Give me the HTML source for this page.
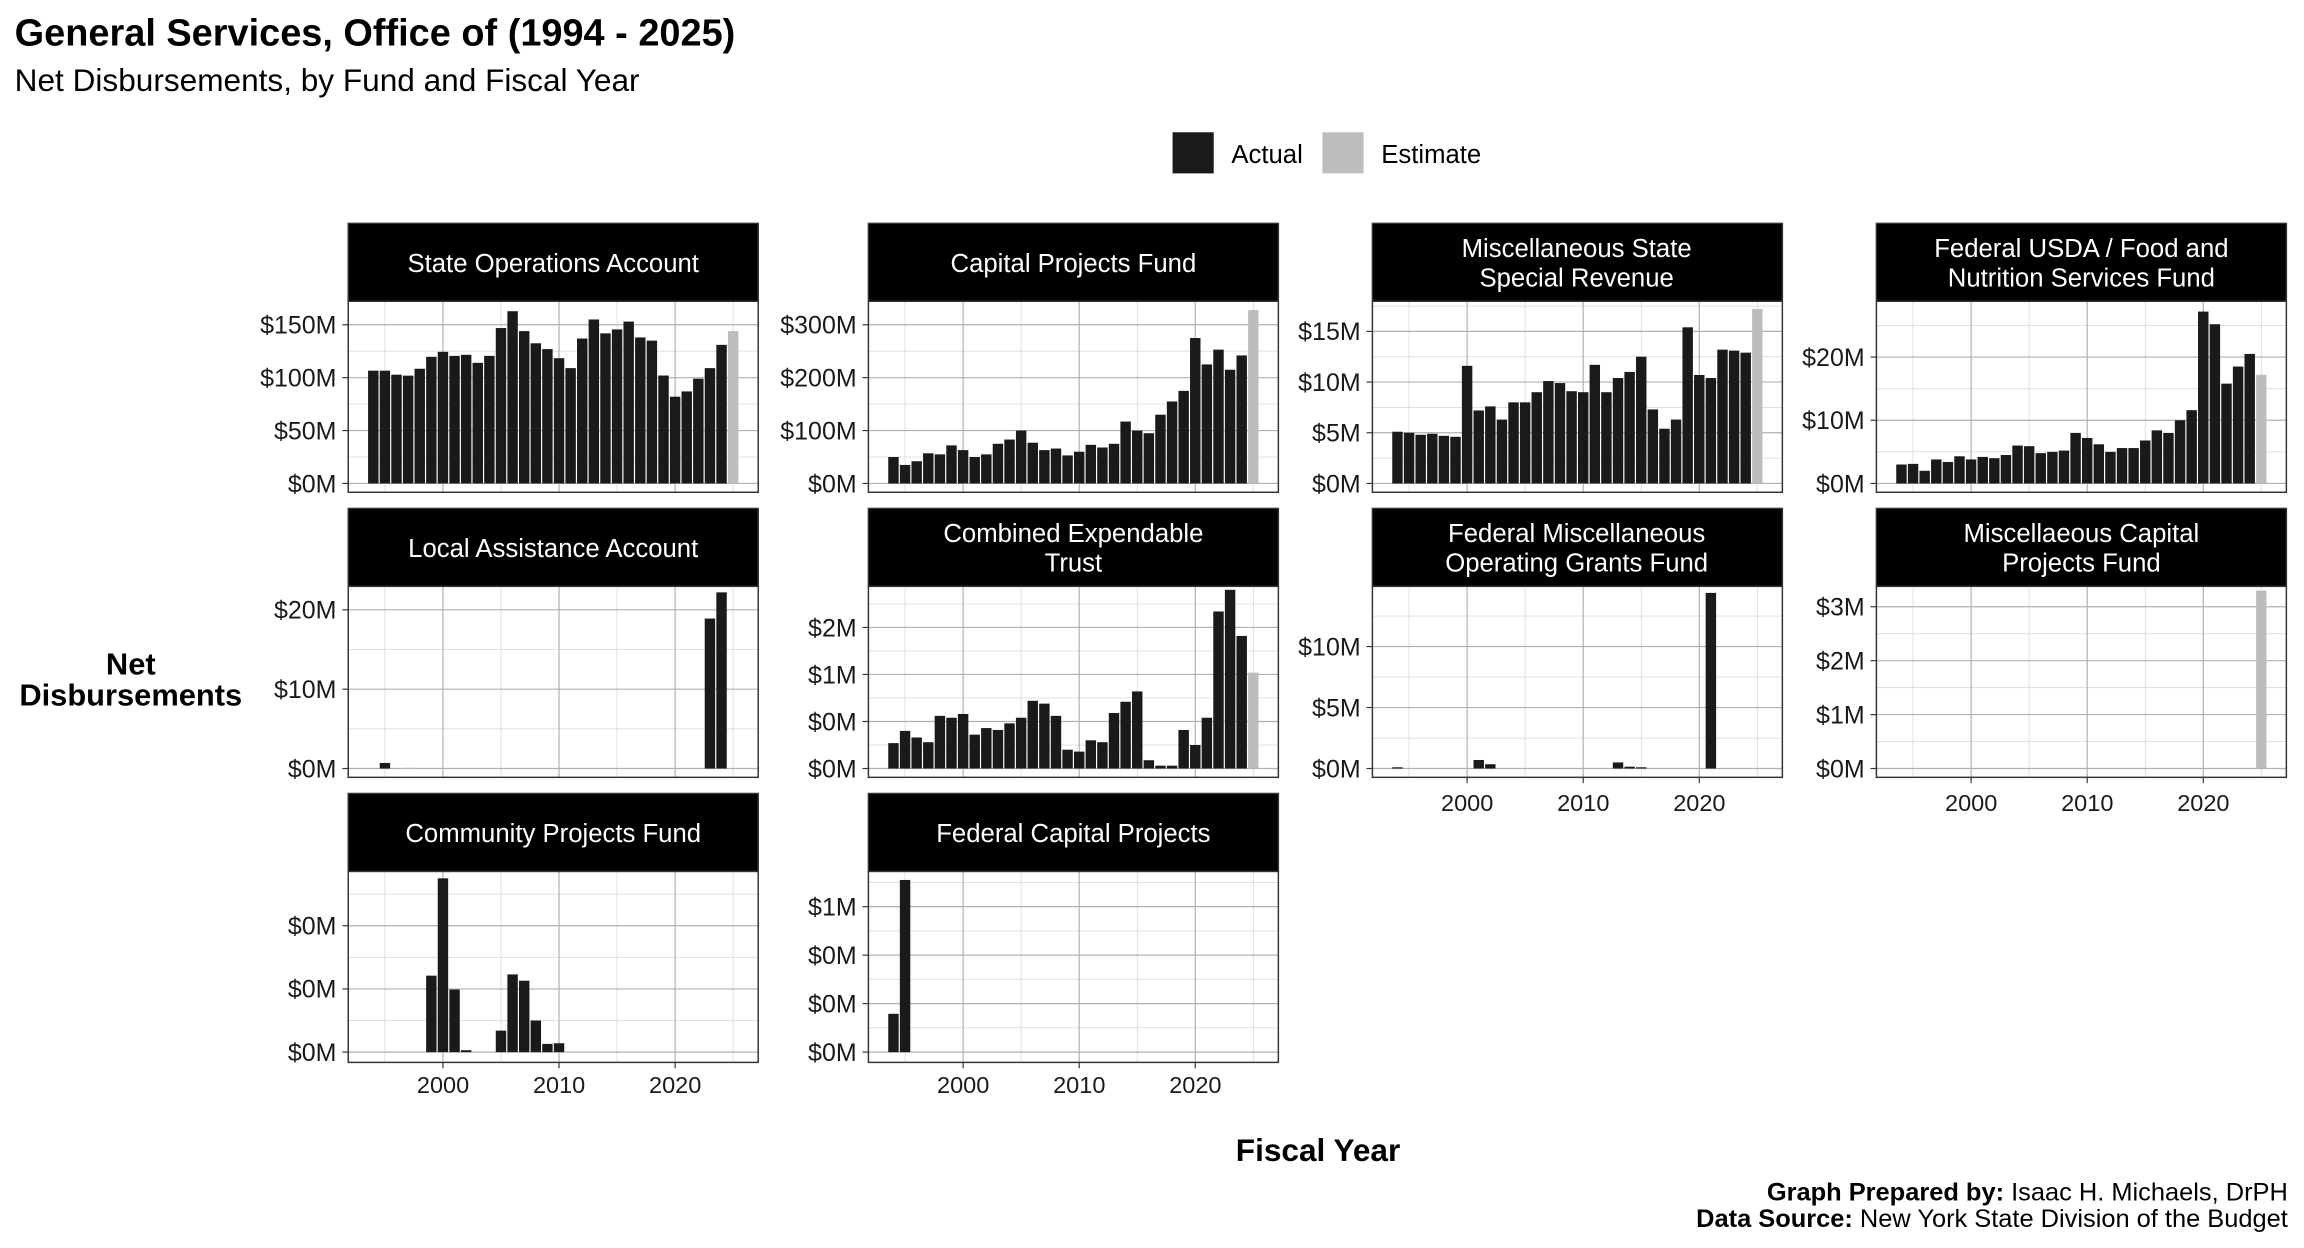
<!DOCTYPE html>
<html><head><meta charset="utf-8"><style>
html,body{margin:0;padding:0;background:#fff;}
svg{display:block;font-family:"Liberation Sans",Arial,sans-serif;}
.yl{font-size:17px;fill:#1a1a1a;text-anchor:end;}
.xl{font-size:16px;fill:#1a1a1a;text-anchor:middle;}
.st{font-size:17.5px;fill:#fff;text-anchor:middle;}
</style></head><body>
<svg id="s" width="2304" height="1248" viewBox="0 0 1568 849.3" xmlns="http://www.w3.org/2000/svg">
<rect width="1568" height="850" fill="#fff"/>
<g id="g"></g>
<text x="10" y="31" font-size="25.8" font-weight="bold" fill="#000">General Services, Office of (1994 - 2025)</text>
<text x="10" y="62" font-size="21.5" fill="#000">Net Disbursements, by Fund and Fiscal Year</text>
<rect x="798" y="90" width="28" height="28" fill="#1a1a1a"/>
<text x="838" y="111" font-size="17.5">Actual</text>
<rect x="900" y="90" width="28" height="28" fill="#bdbdbd"/>
<text x="940" y="111" font-size="17.5">Estimate</text>
<text x="897" y="790" font-size="21.5" font-weight="bold" text-anchor="middle">Fiscal Year</text>
<text x="89" y="459" font-size="21" font-weight="bold" text-anchor="middle">Net</text>
<text x="89" y="480" font-size="21" font-weight="bold" text-anchor="middle">Disbursements</text>
<text x="1557" y="817" font-size="17.3" text-anchor="end"><tspan font-weight="bold">Graph Prepared by:</tspan> Isaac H. Michaels, DrPH</text>
<text x="1557" y="835" font-size="17.3" text-anchor="end"><tspan font-weight="bold">Data Source:</tspan> New York State Division of the Budget</text>
<g id="t">
<text class="st" x="376.5" y="185">State Operations Account</text>
<text class="st" x="730.5" y="185">Capital Projects Fund</text>
<text class="st" x="1073" y="175">Miscellaneous State</text>
<text class="st" x="1073" y="195">Special Revenue</text>
<text class="st" x="1416.5" y="175">Federal USDA / Food and</text>
<text class="st" x="1416.5" y="195">Nutrition Services Fund</text>
<text class="st" x="376.5" y="379">Local Assistance Account</text>
<text class="st" x="730.5" y="369">Combined Expendable</text>
<text class="st" x="730.5" y="389">Trust</text>
<text class="st" x="1073" y="369">Federal Miscellaneous</text>
<text class="st" x="1073" y="389">Operating Grants Fund</text>
<text class="st" x="1416.5" y="369">Miscellaeous Capital</text>
<text class="st" x="1416.5" y="389">Projects Fund</text>
<text class="st" x="376.5" y="573">Community Projects Fund</text>
<text class="st" x="730.5" y="573">Federal Capital Projects</text>

<text class="yl" x="229" y="335">$0M</text><text class="yl" x="229" y="299">$50M</text><text class="yl" x="229" y="263">$100M</text><text class="yl" x="229" y="227">$150M</text>
<text class="yl" x="583" y="335">$0M</text><text class="yl" x="583" y="299">$100M</text><text class="yl" x="583" y="263">$200M</text><text class="yl" x="583" y="227">$300M</text>
<text class="yl" x="926" y="335">$0M</text><text class="yl" x="926" y="300.5">$5M</text><text class="yl" x="926" y="266">$10M</text><text class="yl" x="926" y="231.5">$15M</text>
<text class="yl" x="1269" y="335">$0M</text><text class="yl" x="1269" y="292">$10M</text><text class="yl" x="1269" y="249">$20M</text>
<text class="yl" x="229" y="529">$0M</text><text class="yl" x="229" y="475">$10M</text><text class="yl" x="229" y="421">$20M</text>
<text class="yl" x="583" y="529">$0M</text><text class="yl" x="583" y="497">$0M</text><text class="yl" x="583" y="465">$1M</text><text class="yl" x="583" y="433">$2M</text>
<text class="yl" x="926" y="529">$0M</text><text class="yl" x="926" y="487.5">$5M</text><text class="yl" x="926" y="446">$10M</text>
<text class="yl" x="1269" y="529">$0M</text><text class="yl" x="1269" y="492.3">$1M</text><text class="yl" x="1269" y="455.6">$2M</text><text class="yl" x="1269" y="418.9">$3M</text>
<text class="yl" x="229" y="722">$0M</text><text class="yl" x="229" y="679">$0M</text><text class="yl" x="229" y="636">$0M</text>
<text class="yl" x="583" y="722">$0M</text><text class="yl" x="583" y="689">$0M</text><text class="yl" x="583" y="656">$0M</text><text class="yl" x="583" y="623">$1M</text>

<text class="xl" x="301.5" y="744">2000</text><text class="xl" x="380.5" y="744">2010</text><text class="xl" x="459.5" y="744">2020</text>
<text class="xl" x="655.5" y="744">2000</text><text class="xl" x="734.5" y="744">2010</text><text class="xl" x="813.5" y="744">2020</text>
<text class="xl" x="998.5" y="552">2000</text><text class="xl" x="1077.5" y="552">2010</text><text class="xl" x="1156.5" y="552">2020</text>
<text class="xl" x="1341.5" y="552">2000</text><text class="xl" x="1420.5" y="552">2010</text><text class="xl" x="1499.5" y="552">2020</text>
</g>
</svg>
<script>
(function(){
var NS="http://www.w3.org/2000/svg",g=document.getElementById('g');
function el(n,a){var e=document.createElementNS(NS,n);for(var k in a)e.setAttribute(k,a[k]);g.appendChild(e);return e;}
var L=[237,591,934,1277],T=[152,346,540],W=279,SH=53,PH=130;
function full(a){var o={};for(var i=0;i<a.length;i++)o[1994+i]=a[i];return o;}
var P=[
{c:0,r:0,z:329,k:0.72,t:[0,50,100,150],est:2025,d:full([106.6,106.6,102.8,101.9,108.4,119.7,124.4,120.6,121.6,114,120.6,146.9,162.8,144,132.5,127,118.4,109,137,155,141.9,145.6,153,138,135,102,82,87,99,109,131,144])},
{c:1,r:0,z:329,k:0.36,t:[0,100,200,300],est:2025,d:full([50,35,42,57,55,72,63,50,55,75,83,100,77,63,66,53,60,73,68,75,117,100,95,130,155,175,275,225,253,215,242,328])},
{c:2,r:0,z:329,k:6.9,t:[0,5,10,15],est:2025,d:full([5.1,5,4.8,4.9,4.7,4.6,11.6,7.2,7.6,6.3,8,8,9,10.1,9.9,9.1,9,11.7,9,10.4,11,12.5,7.3,5.4,6.3,15.4,10.7,10.4,13.2,13.1,12.9,17.2])},
{c:3,r:0,z:329,k:4.3,t:[0,10,20],est:2025,d:full([3,3.1,2,3.8,3.4,4.3,3.8,4.2,4,4.5,6,5.9,4.8,5,5.2,8,7.2,6.2,5,5.6,5.6,6.8,8.4,8,10,11.6,27.2,25.2,15.8,18.5,20.5,17.2])},
{c:0,r:1,z:523,k:5.4,t:[0,10,20],est:1997,d:{1995:0.7,1997:0.1,2023:18.9,2024:22.2}},
{c:1,r:1,z:523,k:64,t:[0,0.5,1,1.5],est:2025,d:full([.27,.4,.33,.28,.56,.54,.58,.36,.43,.41,.48,.54,.72,.69,.56,.2,.18,.3,.28,.59,.71,.82,.088,.03,.03,.41,.25,.54,1.67,1.9,1.41,1.02])},
{c:2,r:1,z:523,k:8.3,t:[0,5,10],est:0,d:{1994:0.1,2001:0.7,2002:0.35,2013:0.5,2014:0.15,2015:0.1,2021:14.4}},
{c:3,r:1,z:523,k:36.7,t:[0,1,2,3],est:2025,d:{2025:3.3}},
{c:0,r:2,z:716,k:43,t:[0,1,2],est:0,d:{1999:1.21,2000:2.75,2001:0.99,2002:0.03,2005:0.34,2006:1.23,2007:1.13,2008:0.5,2009:0.13,2010:0.14}},
{c:1,r:2,z:716,k:33,t:[0,1,2,3],est:0,d:{1994:0.79,1995:3.55}}
];
P.forEach(function(p){
 var l=L[p.c],top=T[p.r],pt=top+SH,pb=pt+PH;
 el('rect',{x:l,y:pt,width:W,height:PH,fill:'#fff'});
 function X(y){return l+139.5+(y-2009.5)*7.9;}
 [1995,2005,2015,2025].forEach(function(y){el('line',{x1:X(y),x2:X(y),y1:pt,y2:pb,stroke:'#dcdcdc','stroke-width':0.6});});
 var st=p.t[1]-p.t[0];
 for(var i=0;i<p.t.length+1;i++){var v=p.t[0]+st*(i+0.5);var yy=p.z-v*p.k;if(yy>pt&&yy<pb)el('line',{x1:l,x2:l+W,y1:yy,y2:yy,stroke:'#dcdcdc','stroke-width':0.6});}
 [2000,2010,2020].forEach(function(y){el('line',{x1:X(y),x2:X(y),y1:pt,y2:pb,stroke:'#b0b0b0','stroke-width':0.8});});
 p.t.forEach(function(v){var yy=p.z-v*p.k;el('line',{x1:l,x2:l+W,y1:yy,y2:yy,stroke:'#b0b0b0','stroke-width':0.8});el('line',{x1:l-4,x2:l,y1:yy,y2:yy,stroke:'#333','stroke-width':0.8});});
 for(var y in p.d){var v=p.d[y],h=v*p.k;el('rect',{x:X(+y)-3.55,y:p.z-h,width:7.1,height:h,fill:(+y===p.est)?'#bdbdbd':'#1a1a1a'});}
 el('rect',{x:l,y:pt,width:W,height:PH,fill:'none',stroke:'#333','stroke-width':1});
 el('rect',{x:l,y:top,width:W,height:SH,fill:'#000',stroke:'#333','stroke-width':1});
 if((p.r===2)||(p.r===1&&p.c>=2)){[2000,2010,2020].forEach(function(y){el('line',{x1:X(y),x2:X(y),y1:pb,y2:pb+4,stroke:'#333','stroke-width':0.8});});}
});
})();
</script>
</body></html>
